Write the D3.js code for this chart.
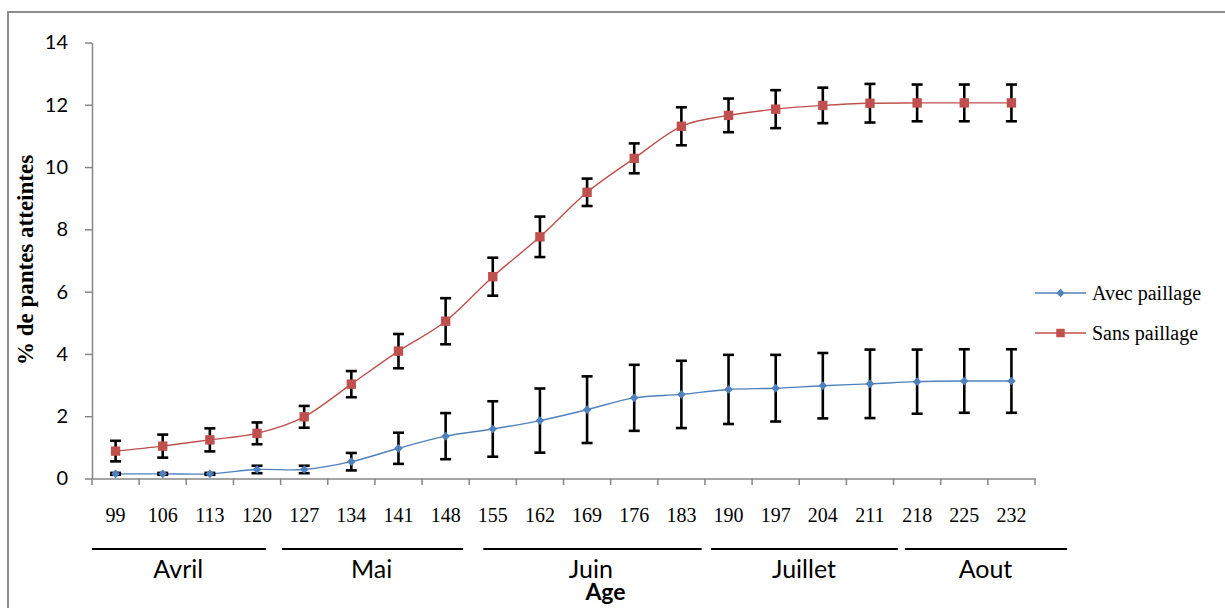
<!DOCTYPE html>
<html>
<head>
<meta charset="utf-8">
<script src="https://cdn.jsdelivr.net/npm/d3@7"></script>
<style>
  html, body { margin: 0; padding: 0; background: #fff; }
  svg { display: block; }
</style>
</head>
<body>
<svg id="chart" width="1225" height="608"></svg>
<script>
// Age (days) of each weekly observation
const ages = [99, 106, 113, 120, 127, 134, 141, 148, 155, 162, 169, 176, 183, 190, 197, 204, 211, 218, 225, 232];

// Mean % of affected plants, with mulch
const avecPaillage = [0.15, 0.15, 0.15, 0.29, 0.29, 0.54, 0.97, 1.36, 1.59, 1.86, 2.21, 2.59, 2.70, 2.86, 2.90, 2.98, 3.04, 3.11, 3.13, 3.13];
const avecErr      = [0.03, 0.03, 0.03, 0.12, 0.12, 0.28, 0.50, 0.74, 0.89, 1.03, 1.07, 1.06, 1.08, 1.11, 1.07, 1.05, 1.10, 1.03, 1.02, 1.02];

// Mean % of affected plants, without mulch
const sansPaillage = [0.88, 1.04, 1.24, 1.45, 1.98, 3.03, 4.09, 5.05, 6.48, 7.76, 9.19, 10.28, 11.31, 11.66, 11.86, 11.98, 12.05, 12.06, 12.06, 12.06];
const sansErr      = [0.33, 0.37, 0.37, 0.35, 0.35, 0.42, 0.55, 0.74, 0.61, 0.65, 0.44, 0.48, 0.61, 0.54, 0.61, 0.57, 0.62, 0.59, 0.59, 0.59];

const yTicks = [0, 2, 4, 6, 8, 10, 12, 14];
const months = ["Avril", "Mai", "Juin", "Juillet", "Aout"];
const seriesNames = ["Avec paillage", "Sans paillage"];

const svg = d3.select("#chart");
const AXIS = "#868686";
const BLUE = "#4F81BD";
const RED = "#C0504D";

// Outer frame (top and left edges visible)
svg.append("path")
  .attr("d", "M8,608 L8,12 L1225,12")
  .attr("fill", "none").attr("stroke", "#8c8c8c").attr("stroke-width", 2);

const x = d3.scaleBand().domain(ages).range([92, 1035]);
const y = d3.scaleLinear().domain([0, 14]).range([478.5, 42.5]);
const cx = d => x(d) + x.bandwidth() / 2;

// Y axis
const yAxis = svg.append("g").attr("transform", "translate(92,0)")
  .call(d3.axisLeft(y).tickValues(yTicks).tickSize(7).tickSizeOuter(0).tickPadding(17).tickFormat(d3.format("d")));
yAxis.select(".domain").attr("stroke", AXIS).attr("stroke-width", 1.5);
yAxis.selectAll(".tick line").attr("stroke", AXIS).attr("stroke-width", 1.5);
yAxis.selectAll(".tick text").attr("fill", "#000")
  .style("font-family", "Lato, 'Liberation Sans', sans-serif").style("font-size", "20px");

// X axis: labels centred in each band, ticks on band boundaries
const xAxis = svg.append("g").attr("transform", "translate(0,478.5)")
  .call(d3.axisBottom(x).tickSize(0).tickSizeOuter(0).tickPadding(29));
xAxis.select(".domain").attr("stroke", AXIS).attr("stroke-width", 1.5);
xAxis.selectAll(".tick text").attr("fill", "#000")
  .style("font-family", "'Liberation Serif', 'Times New Roman', serif").style("font-size", "20px");
const boundaries = ages.map(d => x(d)).concat([x.range()[1]]);
xAxis.selectAll(".bound").data(boundaries).join("line")
  .attr("class", "bound")
  .attr("x1", d => d).attr("x2", d => d)
  .attr("y1", 0).attr("y2", 6.5)
  .attr("stroke", AXIS).attr("stroke-width", 1.5);

// Y axis title
svg.append("text")
  .attr("transform", "translate(33,260) rotate(-90)")
  .attr("text-anchor", "middle")
  .style("font-family", "'Liberation Serif', 'Times New Roman', serif")
  .style("font-size", "23px").style("font-weight", "bold")
  .text("% de pantes atteintes");

// Month groupings below the axis, spans expressed in band units
const band = d3.scaleLinear().domain([0, ages.length]).range(x.range());
const monthSpans = [[0, 3.69], [4.03, 7.87], [8.3, 12.93], [13.13, 17.09], [17.24, 20.68]];
const monthCenters = [1.83, 5.93, 10.58, 15.1, 18.95];
months.forEach((m, i) => {
  svg.append("line")
    .attr("x1", band(monthSpans[i][0])).attr("x2", band(monthSpans[i][1]))
    .attr("y1", 549).attr("y2", 549)
    .attr("stroke", "#000").attr("stroke-width", 2.2);
  svg.append("text")
    .attr("x", band(monthCenters[i])).attr("y", 578)
    .attr("text-anchor", "middle")
    .style("font-family", "Lato, 'Liberation Sans', sans-serif").style("font-size", "25px")
    .text(m);
});

svg.append("text")
  .attr("x", 605.5).attr("y", 600)
  .attr("text-anchor", "middle")
  .style("font-family", "Lato, 'Liberation Sans', sans-serif")
  .style("font-size", "23px").style("font-weight", "bold")
  .text("Age");

// Series
const series = [
  { name: seriesNames[0], values: avecPaillage, err: avecErr, color: BLUE, shape: "diamond" },
  { name: seriesNames[1], values: sansPaillage, err: sansErr, color: RED, shape: "square" }
];

const line = d3.line()
  .x((d, i) => cx(ages[i]))
  .y(d => y(d))
  .curve(d3.curveCatmullRom.alpha(0));

series.forEach(s => {
  svg.append("path")
    .datum(s.values)
    .attr("d", line)
    .attr("fill", "none")
    .attr("stroke", s.color)
    .attr("stroke-width", 1.4);
});

// Error bars
series.forEach(s => {
  const g = svg.append("g");
  s.values.forEach((v, i) => {
    const xc = cx(ages[i]);
    const y1 = y(v + s.err[i]), y2 = y(v - s.err[i]);
    g.append("line").attr("x1", xc).attr("x2", xc).attr("y1", y1).attr("y2", y2)
      .attr("stroke", "#000").attr("stroke-width", 2.6);
    [y1, y2].forEach(yy => {
      g.append("line").attr("x1", xc - 5.5).attr("x2", xc + 5.5).attr("y1", yy).attr("y2", yy)
        .attr("stroke", "#000").attr("stroke-width", 2.6);
    });
  });
});

// Markers
const diamond = d3.symbol().type(d3.symbolDiamond2).size(48);
const square = d3.symbol().type(d3.symbolSquare).size(88);
const legendDiamond = d3.symbol().type(d3.symbolDiamond2).size(45);
const legendSquare = d3.symbol().type(d3.symbolSquare).size(72);
series.forEach(s => {
  svg.append("g").selectAll("path").data(s.values).join("path")
    .attr("d", s.shape === "diamond" ? diamond : square)
    .attr("transform", (d, i) => `translate(${cx(ages[i])},${y(d)})`)
    .attr("fill", s.color);
});

// Legend
series.forEach((s, i) => {
  const ly = 293 + i * 40;
  svg.append("line").attr("x1", 1035).attr("x2", 1086).attr("y1", ly).attr("y2", ly)
    .attr("stroke", s.color).attr("stroke-width", 1.4);
  svg.append("path")
    .attr("d", s.shape === "diamond" ? legendDiamond : legendSquare)
    .attr("transform", `translate(1060.5,${ly})`)
    .attr("fill", s.color);
  svg.append("text")
    .attr("x", 1092).attr("y", ly + 6.5)
    .style("font-family", "'Liberation Serif', 'Times New Roman', serif").style("font-size", "20px")
    .text(s.name);
});
</script>
</body>
</html>
